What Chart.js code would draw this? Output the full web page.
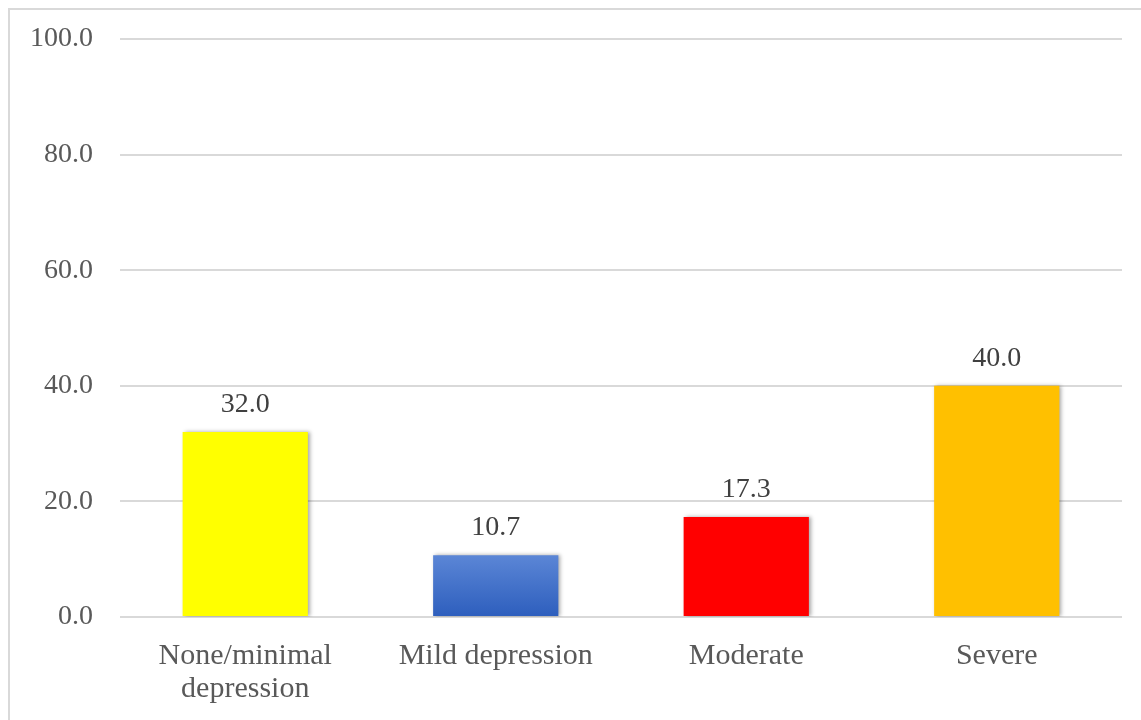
<!DOCTYPE html>
<html>
<head>
<meta charset="utf-8">
<script src="https://cdn.jsdelivr.net/npm/chart.js@4/dist/chart.umd.min.js"></script>
<style>
  body { margin: 0; background: #fff; }
  #frame { position: absolute; left: 8px; top: 8px; width: 1200px; height: 760px;
           border-left: 2px solid #d9d9d9; border-top: 2px solid #d9d9d9; }
  #wrap { position: absolute; left: 0; top: 0; width: 1141px; height: 720px; }
</style>
</head>
<body>
<div id="frame"></div>
<div id="wrap"><canvas id="grafico"></canvas></div>
<script>
const categorias = [['None/minimal', 'depression'], 'Mild depression', 'Moderate', 'Severe'];
const valores = [32.0, 10.7, 17.3, 40.0];
const cores = ['#ffff00', 'azul', '#ff0000', '#ffc000'];
const ticksY = [0, 20, 40, 60, 80, 100];

const fonte = "'Liberation Serif', 'DejaVu Serif', serif";

function corBarra(ctx) {
  const c = cores[ctx.dataIndex];
  if (c !== 'azul') return c;
  const chart = ctx.chart;
  if (!chart.chartArea) return '#3f6fcb';
  const y = chart.scales.y;
  const g = chart.ctx.createLinearGradient(0, y.getPixelForValue(valores[ctx.dataIndex]), 0, y.getPixelForValue(0));
  g.addColorStop(0, '#5b86d6');
  g.addColorStop(1, '#2d5ebd');
  return g;
}

const sombra = {
  id: 'sombra',
  beforeDatasetsDraw(chart) {
    const ctx = chart.ctx;
    ctx.save();
    ctx.shadowColor = 'rgba(0,0,0,0.35)';
    ctx.shadowBlur = 4;
    ctx.shadowOffsetX = 2;
    ctx.shadowOffsetY = 0;
  },
  afterDatasetsDraw(chart) {
    chart.ctx.restore();
  }
};

const rotulos = {
  id: 'rotulos',
  afterDatasetsDraw(chart) {
    const ctx = chart.ctx;
    const meta = chart.getDatasetMeta(0);
    ctx.save();
    ctx.font = '28px ' + fonte;
    ctx.fillStyle = '#404040';
    ctx.textAlign = 'center';
    ctx.textBaseline = 'alphabetic';
    meta.data.forEach((bar, i) => {
      ctx.fillText(valores[i].toFixed(1), bar.x, bar.y - 20);
    });
    ctx.restore();
  }
};

new Chart(document.getElementById('grafico'), {
  type: 'bar',
  data: {
    labels: categorias,
    datasets: [{ data: valores, backgroundColor: corBarra, barPercentage: 0.5, categoryPercentage: 1.0 }]
  },
  options: {
    responsive: true,
    maintainAspectRatio: false,
    animation: false,
    layout: { padding: { top: 39, right: 19, left: 0, bottom: 0 } },
    plugins: { legend: { display: false }, tooltip: { enabled: false } },
    scales: {
      x: {
        grid: { display: false, drawTicks: false },
        border: { display: false },
        ticks: { color: '#595959', font: { family: fonte, size: 30, lineHeight: 1.1 }, padding: 23, maxRotation: 0 },
        afterFit(s) { s.height = 103; }
      },
      y: {
        min: 0, max: 100,
        afterBuildTicks(s) { s.ticks = ticksY.map(v => ({ value: v })); },
        grid: { color: '#d9d9d9', lineWidth: 2, drawTicks: false },
        border: { display: false },
        ticks: { color: '#595959', font: { family: fonte, size: 28 }, padding: 27,
                 callback: v => v.toFixed(1) },
        afterFit(s) { s.width = 120; s.paddingTop = 0; s.paddingBottom = 0; }
      }
    }
  },
  plugins: [sombra, rotulos]
});
</script>
</body>
</html>
